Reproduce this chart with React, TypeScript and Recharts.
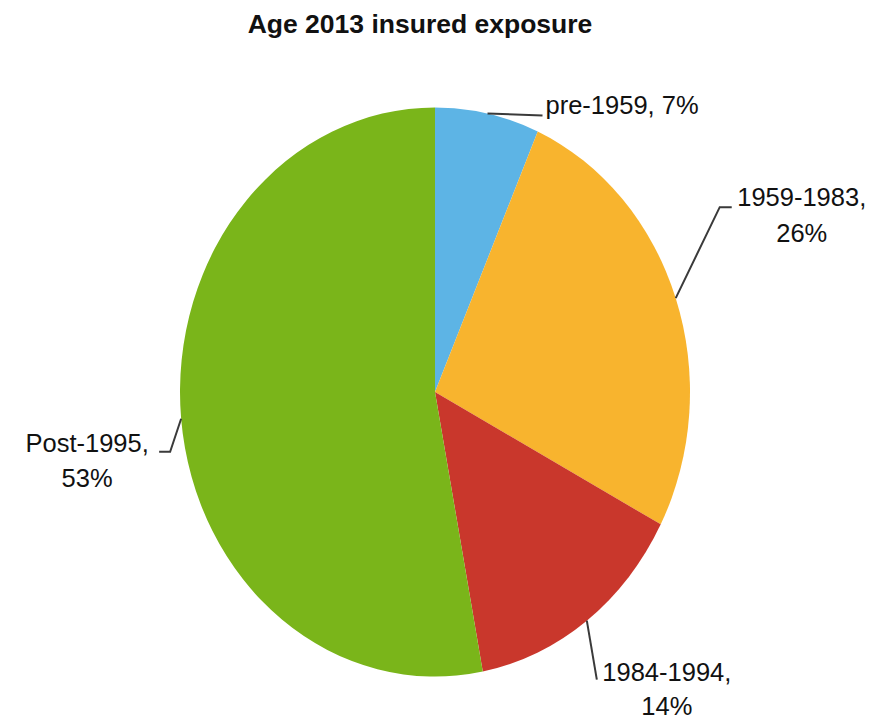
import { PieChart, Pie, Cell } from "recharts";

const categories = ["pre-1959", "1959-1983", "1984-1994", "Post-1995"];
const shares = [6.6, 26.1, 14.3, 53.0];
const colors = ["#5DB4E5", "#F8B42E", "#C9372C", "#7AB51A"];

const data = categories.map((name, i) => ({ name, value: shares[i] }));

const RAD = Math.PI / 180;
const Y_STRETCH = 1.116; // the source pie is an upright ellipse

// leader line + text placement relative to the slice's edge point
const labelLayout = [
  { path: [[55, 2]], x: 58, anchor: "start", lines: [-9], single: true },
  { path: [[44, -91], [56, -91]], x: 126, anchor: "middle", lines: [-101, -65] },
  { path: [[10, 59]], x: 80, anchor: "middle", lines: [51, 85] },
  { path: [[-11, 33], [-22, 33]], x: -94, anchor: "middle", lines: [24, 59] },
];

function edgePoint(cx: number, cy: number, r: number, angle: number) {
  return {
    x: cx + r * Math.cos(angle * RAD),
    y: cy - r * Y_STRETCH * Math.sin(angle * RAD),
  };
}

function EllipseSector(props: any) {
  const { cx, cy, outerRadius, startAngle, endAngle, fill } = props;
  const a = edgePoint(cx, cy, outerRadius, startAngle);
  const b = edgePoint(cx, cy, outerRadius, endAngle);
  const large = Math.abs(endAngle - startAngle) > 180 ? 1 : 0;
  const sweep = startAngle > endAngle ? 1 : 0;
  const d = `M${cx},${cy} L${a.x},${a.y} A${outerRadius},${outerRadius * Y_STRETCH} 0 ${large} ${sweep} ${b.x},${b.y} Z`;
  return <path d={d} fill={fill} stroke="none" />;
}

function renderLabel(props: any) {
  const { cx, cy, outerRadius, midAngle, index, name, value } = props;
  const p = edgePoint(cx, cy, outerRadius, midAngle);
  const lay = labelLayout[index];
  const pts = [[0, 0], ...lay.path].map(([dx, dy]) => `${p.x + dx},${p.y + dy}`).join(" ");
  const pct = `${Math.round(value)}%`;
  const texts = lay.single ? [`${name}, ${pct}`] : [`${name},`, pct];
  return (
    <g>
      <polyline points={pts} fill="none" stroke="#3a3a3a" strokeWidth={2} />
      {texts.map((t, i) => (
        <text
          key={i}
          x={p.x + lay.x}
          y={p.y + lay.lines[i]}
          textAnchor={lay.anchor as any}
          dominantBaseline="central"
          fill="#111"
          fontSize={25.5}
          fontFamily="'Liberation Sans', Arial, sans-serif"
        >
          {t}
        </text>
      ))}
    </g>
  );
}

export default function App() {
  return (
    <div style={{ position: "absolute", left: 0, top: 0, width: 876, height: 721, background: "#fff" }}>
      <div
        style={{
          position: "absolute",
          left: 0,
          top: 9,
          width: 840,
          textAlign: "center",
          fontFamily: "'Liberation Sans', Arial, sans-serif",
          fontWeight: "bold",
          fontSize: 26.5,
          color: "#111",
        }}
      >
        Age 2013 insured exposure
      </div>
      <PieChart width={876} height={721} margin={{ top: 0, right: 0, bottom: 0, left: 0 }}>
        <Pie
          data={data}
          dataKey="value"
          nameKey="name"
          cx={435}
          cy={392}
          outerRadius={255}
          startAngle={90}
          endAngle={-270}
          shape={EllipseSector}
          label={renderLabel}
          labelLine={false}
          isAnimationActive={false}
        >
          {data.map((d, i) => (
            <Cell key={d.name} fill={colors[i]} />
          ))}
        </Pie>
      </PieChart>
    </div>
  );
}
